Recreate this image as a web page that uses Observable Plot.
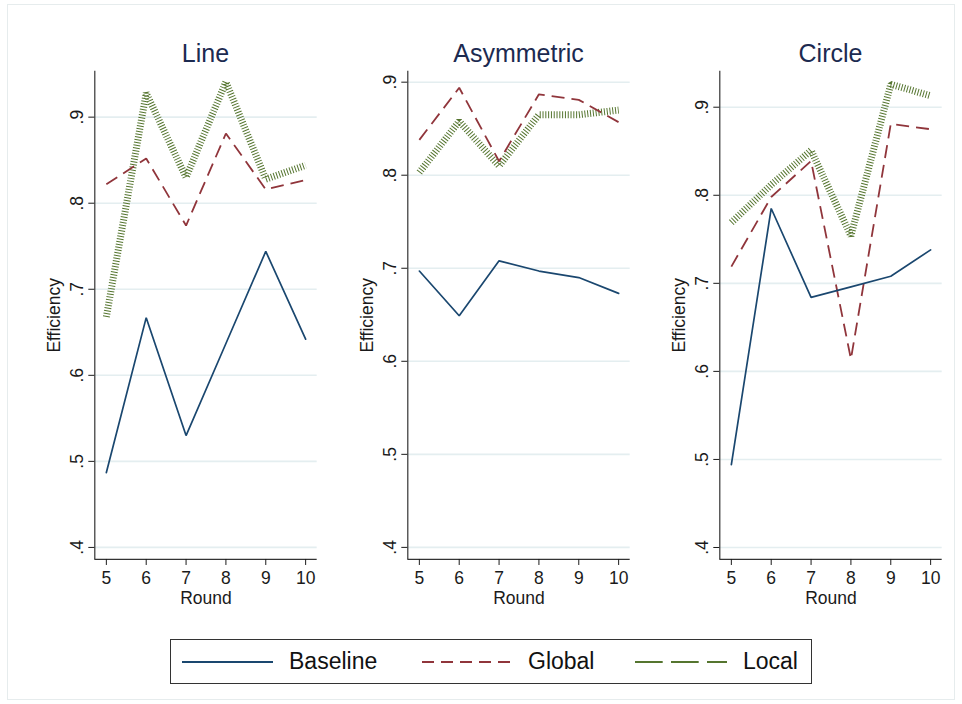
<!DOCTYPE html>
<html>
<head>
<meta charset="utf-8">
<script src="https://cdn.jsdelivr.net/npm/d3@7"></script>
<script src="https://cdn.jsdelivr.net/npm/@observablehq/plot@0.6"></script>
<style>
  html, body { margin: 0; padding: 0; background: #fff; }
  #wrap { position: relative; width: 962px; height: 704px; background: #fff; overflow: hidden;
          font-family: "Liberation Sans", Arial, Helvetica, sans-serif; }
  .panel { position: absolute; top: 0; }
  .panel text { font-size: 17.5px; }
  .ptitle { position: absolute; top: 40.5px; width: 222px; text-align: center; font-size: 25px;
            line-height: 25px; color: #1c2a50; white-space: nowrap; }
  #border { position: absolute; left: 7px; top: 4px; width: 946px; height: 694px; border: 1px solid #e6eced; }
  #legend { position: absolute; left: 170px; top: 639px; width: 640px; height: 43px; border: 1.3px solid #333; }
  #legend svg { position: absolute; left: 0; top: 0; }
  .lt { position: absolute; top: 0; line-height: 43px; font-size: 23px; color: #111; }
</style>
</head>
<body>
<div id="wrap">
  <div id="border"></div>
</div>
<script>
// ---------- data ----------
const rounds = [5, 6, 7, 8, 9, 10];
const seriesNames = ["Baseline", "Global", "Local"];
const panelTitles = ["Line", "Asymmetric", "Circle"];
const yTickValues = [0.4, 0.5, 0.6, 0.7, 0.8, 0.9];

// Line treatment
const lineBaseline = [0.487, 0.667, 0.530, 0.637, 0.744, 0.642];
const lineGlobal   = [0.822, 0.852, 0.774, 0.881, 0.816, 0.827];
const lineLocal    = [0.668, 0.928, 0.830, 0.941, 0.828, 0.844];

// Asymmetric treatment
const asymBaseline = [0.697, 0.649, 0.708, 0.697, 0.690, 0.673];
const asymGlobal   = [0.838, 0.894, 0.815, 0.887, 0.881, 0.857];
const asymLocal    = [0.803, 0.858, 0.810, 0.865, 0.865, 0.870];

// Circle treatment
const circBaseline = [0.494, 0.785, 0.684, 0.696, 0.708, 0.738];
const circGlobal   = [0.719, 0.798, 0.839, 0.614, 0.881, 0.875];
const circLocal    = [0.769, 0.812, 0.851, 0.754, 0.926, 0.913];

// ---------- styles ----------
const colors = { Baseline: "#1a476f", Global: "#90353b", Local: "#55752f" };
const FONT = "'Liberation Sans', Arial, Helvetica, sans-serif";

const panels = [
  { title: panelTitles[0], b: lineBaseline, g: lineGlobal, l: lineLocal, yDomain: [0.386, 0.9534], left: 94.3 },
  { title: panelTitles[1], b: asymBaseline, g: asymGlobal, l: asymLocal, yDomain: [0.387, 0.9118], left: 407.3 },
  { title: panelTitles[2], b: circBaseline, g: circGlobal, l: circLocal, yDomain: [0.3864, 0.9409], left: 719.3 }
];

const xDomain = [4.71, 10.29];
const frameW = 222.4, frameTop = 70.7, frameBottom = 559, svgH = 620;
const svgLeftPad = 94.3;

function toRows(values) { return rounds.map((r, i) => ({ round: r, value: values[i] })); }

const wrap = document.getElementById("wrap");

panels.forEach(p => {
  const width = svgLeftPad + frameW + 14;
  const chart = Plot.plot({
    width,
    height: svgH,
    marginLeft: svgLeftPad,
    marginRight: width - svgLeftPad - frameW,
    marginTop: frameTop,
    marginBottom: svgH - frameBottom,
    x: { domain: xDomain },
    y: { domain: p.yDomain },
    style: { fontFamily: FONT, background: "transparent", overflow: "visible", color: "#1a1a1a" },
    marks: [
      Plot.gridY(yTickValues, { stroke: "#e4eef0", strokeOpacity: 1, strokeWidth: 1.6 }),
      Plot.line(toRows(p.l), { x: "round", y: "value", stroke: colors.Local, strokeWidth: 7,
                               strokeDasharray: "1 1.8", strokeLinecap: "butt", strokeLinejoin: "bevel" }),
      Plot.line(toRows(p.g), { x: "round", y: "value", stroke: colors.Global, strokeWidth: 1.8,
                               strokeDasharray: "13 7", strokeLinecap: "butt", strokeLinejoin: "miter" }),
      Plot.line(toRows(p.b), { x: "round", y: "value", stroke: colors.Baseline, strokeWidth: 1.7,
                               strokeLinejoin: "miter" }),
      Plot.ruleX([xDomain[0]], { stroke: "#333", strokeWidth: 1.2 }),
      Plot.ruleY([p.yDomain[0]], { stroke: "#333", strokeWidth: 1.2 }),
      Plot.axisY(yTickValues, {
        anchor: "left", tickSize: 6, tickPadding: 6, tickRotate: -90,
        tickFormat: d => d.toFixed(1).replace(/^0/, ""),
        label: "Efficiency", labelAnchor: "center", labelArrow: "none", labelOffset: 47
      }),
      Plot.axisX(rounds, {
        anchor: "bottom", tickSize: 6, tickPadding: 6,
        tickFormat: d => String(d),
        label: "Round", labelAnchor: "center", labelArrow: "none", labelOffset: 45
      })
    ]
  });
  chart.classList.add("panel");
  chart.style.left = (p.left - svgLeftPad) + "px";
  wrap.appendChild(chart);

  const t = document.createElement("div");
  t.className = "ptitle";
  t.style.left = (p.left + frameW / 2 - 111) + "px";
  t.textContent = p.title;
  wrap.appendChild(t);
});

// ---------- legend ----------
const legend = document.createElement("div");
legend.id = "legend";
const legendItems = [
  { name: seriesNames[0], x1: 11, x2: 102, dash: null, text: 118 },
  { name: seriesNames[1], x1: 251, x2: 340, dash: "12,7", text: 357 },
  { name: seriesNames[2], x1: 464, x2: 556, dash: "27.7,8.3", text: 572 }
];
let svgStr = '<svg width="640" height="43" xmlns="http://www.w3.org/2000/svg">';
legendItems.forEach(it => {
  svgStr += `<line x1="${it.x1}" x2="${it.x2}" y1="22" y2="22" stroke="${colors[it.name]}" stroke-width="2"` +
            (it.dash ? ` stroke-dasharray="${it.dash}"` : "") + ' />';
});
svgStr += '</svg>';
legend.innerHTML = svgStr + legendItems.map(it =>
  `<div class="lt" style="left:${it.text}px">${it.name}</div>`).join("");
wrap.appendChild(legend);
</script>
</body>
</html>
